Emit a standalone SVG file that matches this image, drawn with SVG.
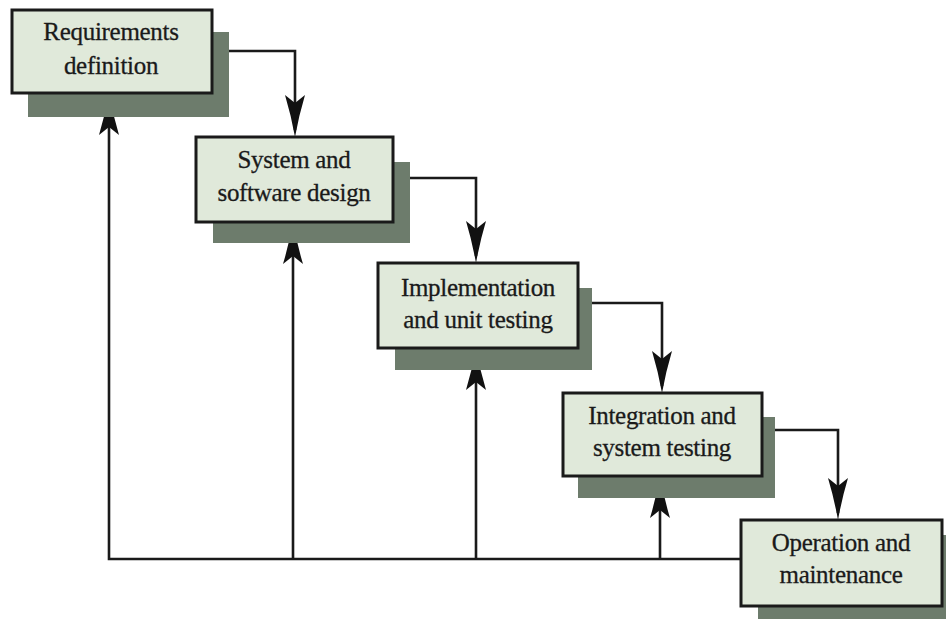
<svg xmlns="http://www.w3.org/2000/svg" width="946" height="619" viewBox="0 0 946 619">
<style>
.shadow{fill:#6d7c6c}
.box{fill:#e0e9da;stroke:#1a1a1a;stroke-width:3}
.lbl{font-family:"Liberation Serif","Times New Roman",serif;font-size:25px;fill:#1a1a1a;stroke:#1a1a1a;stroke-width:0.3;text-anchor:middle;letter-spacing:-0.3px}
.ln{fill:none;stroke:#1a1a1a;stroke-width:2.6}
.ah{fill:#111}
</style>
<defs>
<path id="down" d="M0,0 Q-4,-22 -10,-42 L0,-34 L10,-42 Q4,-22 0,0 Z"/>
<path id="up" d="M0,0 Q-4,22 -10,42 L0,34 L10,42 Q4,22 0,0 Z"/>
</defs>
<rect width="946" height="619" fill="#ffffff"/>
<g id="connectors">
<polyline class="ln" points="212,51 295,51 295,130"/>
<polyline class="ln" points="393,178 476,178 476,256"/>
<polyline class="ln" points="578,303 662,303 662,386"/>
<polyline class="ln" points="762,430 838,430 838,513"/>
<polyline class="ln" points="741,559 109,559 109,100"/>
<line class="ln" x1="293" y1="559" x2="293" y2="229"/>
<line class="ln" x1="476" y1="559" x2="476" y2="355"/>
<line class="ln" x1="660" y1="559" x2="660" y2="483"/>
<use href="#down" class="ah" x="295" y="137"/>
<use href="#down" class="ah" x="476" y="263"/>
<use href="#down" class="ah" x="662" y="393"/>
<use href="#down" class="ah" x="838" y="520"/>
<use href="#up" class="ah" x="109" y="93"/>
<use href="#up" class="ah" x="293" y="222"/>
<use href="#up" class="ah" x="476" y="348"/>
<use href="#up" class="ah" x="660" y="476"/>
</g>
<g id="n1">
<rect class="shadow" x="28" y="32" width="201" height="85"/>
<rect class="box" x="12" y="10" width="200" height="83"/>
<text class="lbl" x="111" y="40">Requirements</text>
<text class="lbl" x="111" y="74">definition</text>
</g>
<g id="n2">
<rect class="shadow" x="213" y="162" width="197" height="81"/>
<rect class="box" x="196" y="137" width="197" height="85"/>
<text class="lbl" x="294" y="168">System and</text>
<text class="lbl" x="294" y="201">software design</text>
</g>
<g id="n3">
<rect class="shadow" x="395" y="288" width="197" height="82"/>
<rect class="box" x="378" y="263" width="200" height="85"/>
<text class="lbl" x="478" y="296">Implementation</text>
<text class="lbl" x="478" y="328">and unit testing</text>
</g>
<g id="n4">
<rect class="shadow" x="578" y="417" width="197" height="81"/>
<rect class="box" x="563" y="393" width="199" height="83"/>
<text class="lbl" x="662" y="424">Integration and</text>
<text class="lbl" x="662" y="456">system testing</text>
</g>
<g id="n5">
<rect class="shadow" x="758" y="535" width="200" height="100"/>
<rect class="box" x="741" y="520" width="201" height="86"/>
<text class="lbl" x="841" y="551">Operation and</text>
<text class="lbl" x="841" y="583">maintenance</text>
</g>
</svg>
